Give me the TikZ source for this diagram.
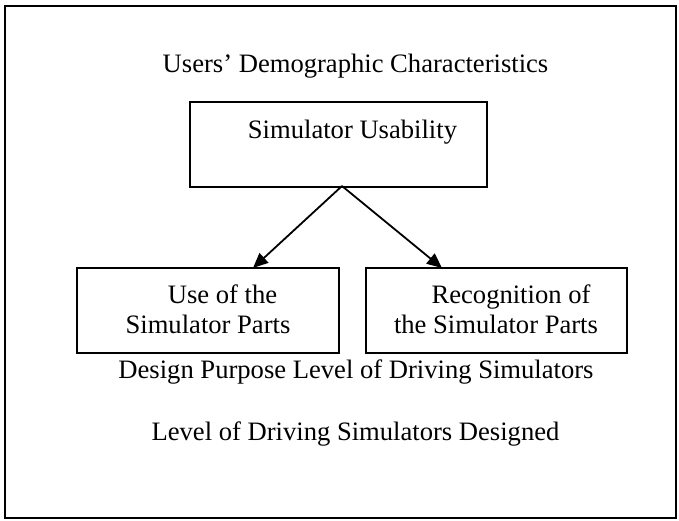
\documentclass[tikz,border=0pt]{standalone}
\usepackage{fontspec}
\setmainfont{Liberation Serif}
\usetikzlibrary{arrows.meta}
\begin{document}
\begin{tikzpicture}[x=1pt,y=-1pt,
  box/.style={draw, line width=1.8pt, inner sep=0pt, minimum height=85pt},
  lbl/.style={anchor=base, inner sep=0pt, font=\fontsize{26.6}{30}\selectfont},
  conn/.style={line width=1.8pt, -{Triangle[length=15pt,width=13pt]}}]
\useasboundingbox (0,0) rectangle (679,520);
\node[draw, line width=2.2pt, inner sep=0pt, minimum width=671pt, minimum height=512pt] (frame) at (340.5,262) {};
\node[lbl] (title) at (355.5,72) {Users’ Demographic Characteristics};
\node[box, minimum width=297pt] (top) at (338.5,144.5) {};
\node[lbl] (toptext) at (352.5,138) {Simulator Usability};
\node[box, minimum width=262pt] (left) at (208,310.5) {};
\node[box, minimum width=261pt] (right) at (496.5,310.5) {};
\node[lbl] (l1) at (222.5,303) {Use of the};
\node[lbl] (l2) at (208,333) {Simulator Parts};
\node[lbl] (r1) at (511,303) {Recognition of};
\node[lbl] (r2) at (496,333) {the Simulator Parts};
\node[lbl] (design) at (356,378) {Design Purpose Level of Driving Simulators};
\node[lbl] (level) at (355.5,440) {Level of Driving Simulators Designed};
\coordinate (src) at (342,186);
\coordinate (ltip) at (253,268);
\coordinate (rtip) at (442,268);
\draw[conn] (src) -- (ltip);
\draw[conn] (src) -- (rtip);
\end{tikzpicture}
\end{document}
